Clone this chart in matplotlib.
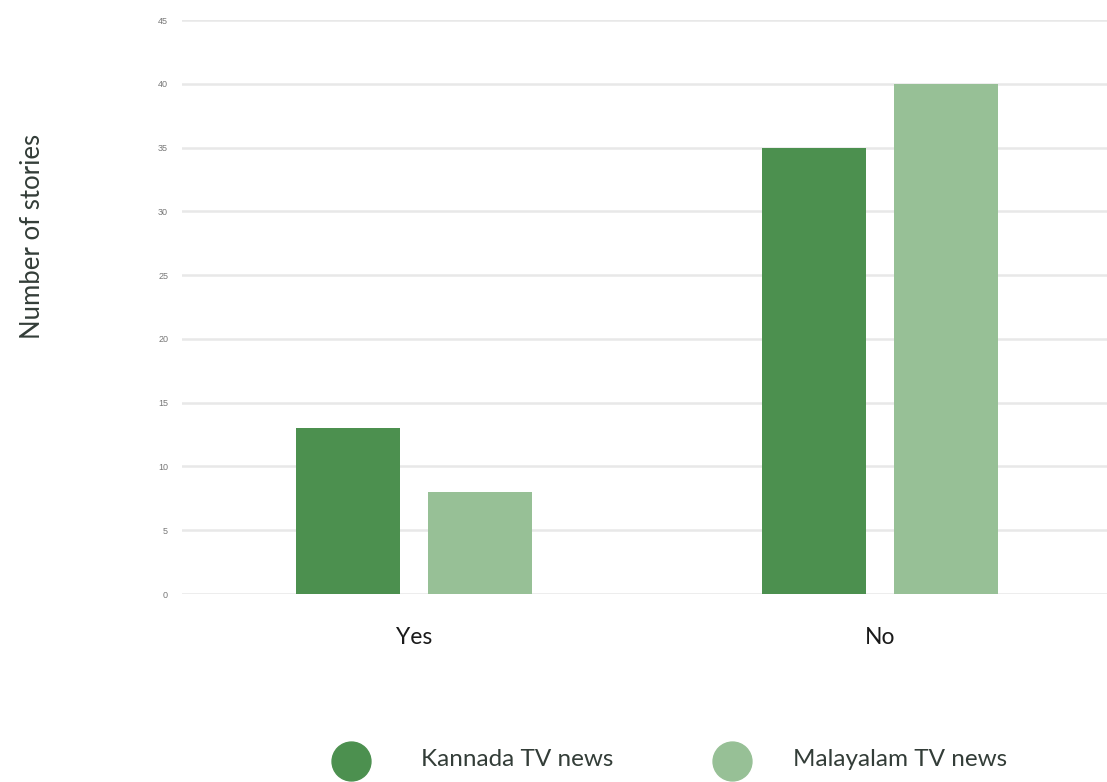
import matplotlib
matplotlib.use("Agg")
import matplotlib.pyplot as plt
from matplotlib.lines import Line2D
import numpy as np

categories = ["Yes", "No"]
series_names = ["Kannada TV news", "Malayalam TV news"]
kannada = [13, 35]
malayalam = [8, 40]
yticks = [0, 5, 10, 15, 20, 25, 30, 35, 40, 45]

colors = ["#4c904f", "#97c096"]
W, H = 1107, 782

fig = plt.figure(figsize=(W/100, H/100), dpi=100)
ax = fig.add_axes([182/W, 1-594/H, 1-182/W, (594-20)/H])

x = np.arange(len(categories))
w = 0.223
off = 0.142
ax.bar(x - off, kannada, width=w, color=colors[0], zorder=3)
ax.bar(x + off, malayalam, width=w, color=colors[1], zorder=3)

ax.set_xlim(-0.498, 1.487)
ax.set_ylim(0, 45)
ax.set_yticks(yticks)
ax.set_yticklabels([str(t) for t in yticks], fontsize=6.5, color="#777777",
                   family="Liberation Sans")
ax.tick_params(axis="y", length=0, pad=10)
ax.set_xticks(x)
ax.set_xticklabels(categories, fontsize=16.5, color="#1a1a1a", family="Lato")
ax.tick_params(axis="x", length=0, pad=24)
ax.grid(axis="y", color="#e8e8e8", linewidth=1.8, zorder=0)
for s in ax.spines.values():
    s.set_visible(False)

fig.text(33/W, 1-236/H, "Number of stories", rotation=90, ha="center", va="center",
         fontsize=18.5, color="#333d38", family="Lato")

# legend, drawn manually
leg_circle_x = [351, 732]
leg_text_x = [421, 793]
for cx, tx, c, name in zip(leg_circle_x, leg_text_x, colors, series_names):
    fig.add_artist(Line2D([cx/W], [1-761/H], marker="o", markersize=28, color=c,
                          linestyle="", transform=fig.transFigure))
    fig.text(tx/W, 1-759/H, name, ha="left", va="center", fontsize=17.5,
             color="#333d38", family="Lato")

fig.savefig("out.png", dpi=100)
